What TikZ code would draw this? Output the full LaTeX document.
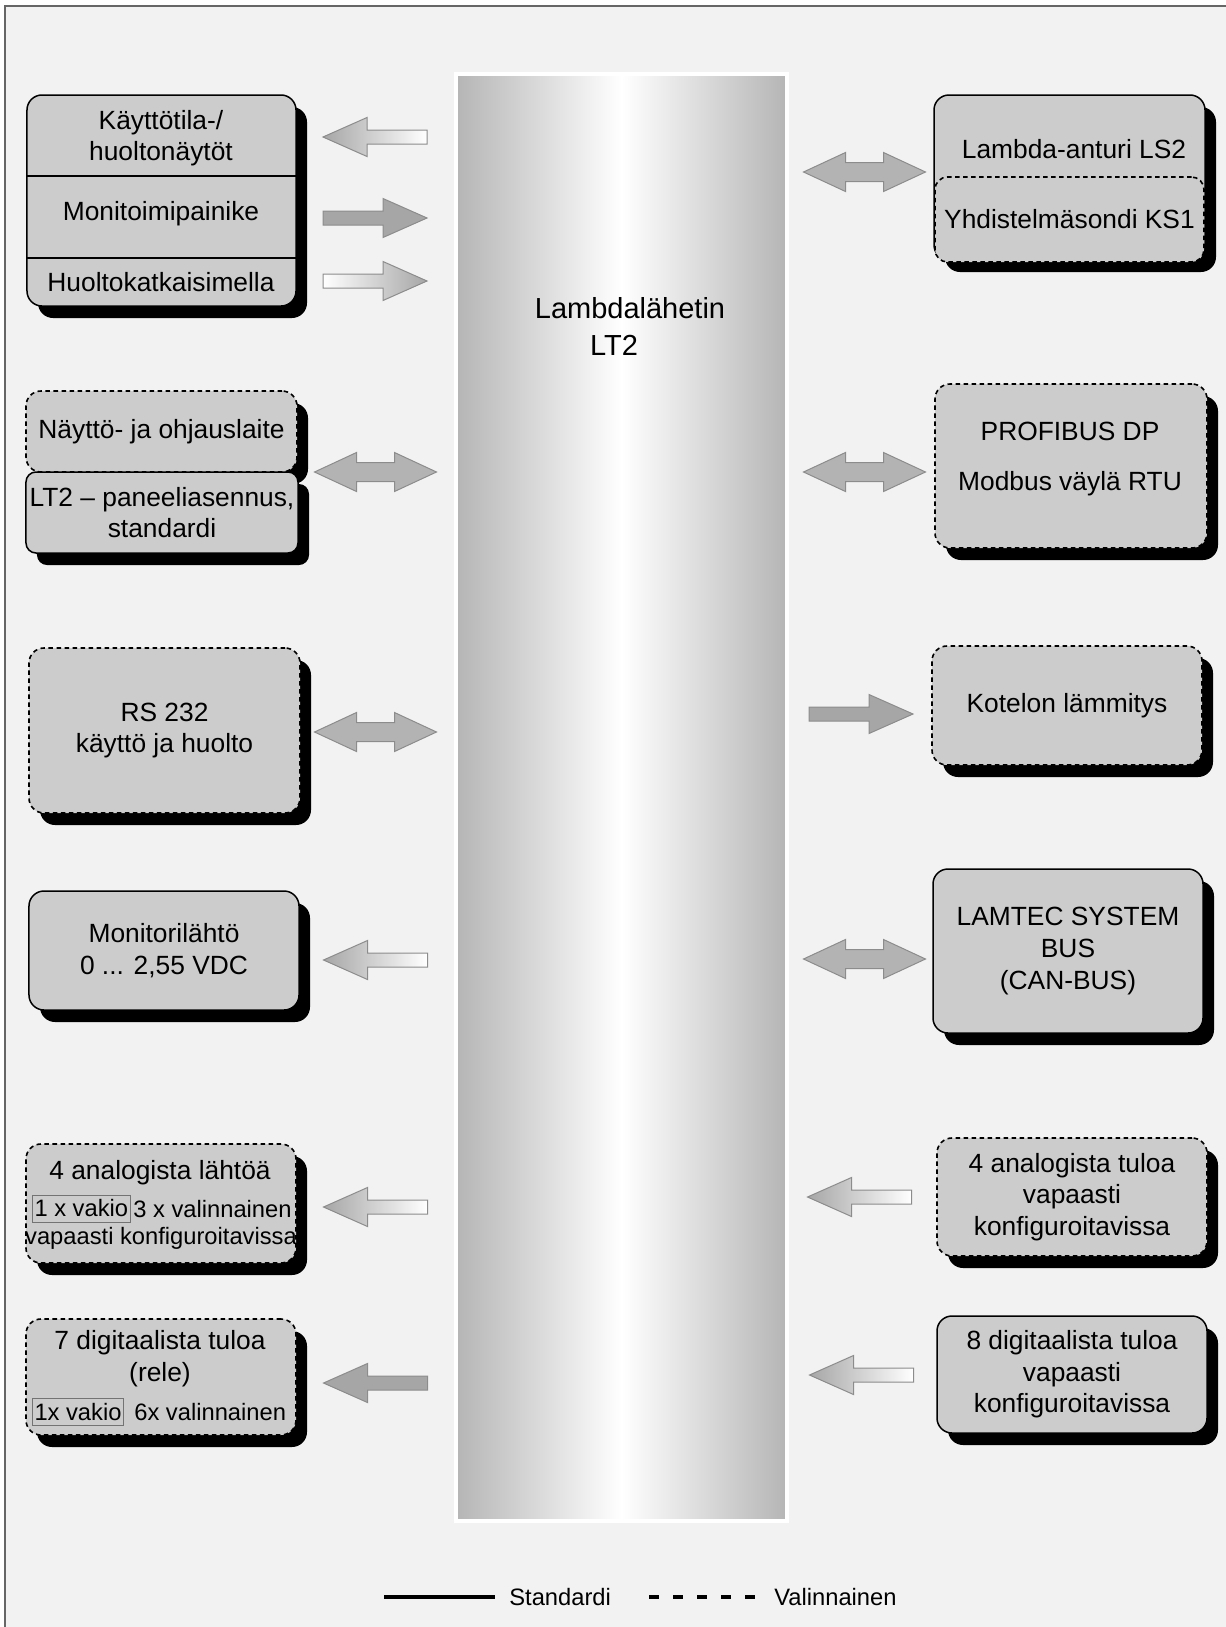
\documentclass[tikz,border=0pt]{standalone}
\usepackage{fontspec}
\setmainfont{Liberation Sans}
\usetikzlibrary{shadows}
\definecolor{bg}{HTML}{F2F2F2}
\definecolor{boxfill}{HTML}{CCCCCC}
\definecolor{barside}{HTML}{B5B5B5}
\definecolor{arrfill}{HTML}{A6A6A6}
\definecolor{dblfill}{HTML}{B3B3B3}
\definecolor{arredge}{HTML}{8C8C8C}
\tikzset{
  base/.style={rectangle, rounded corners=3mm, draw=black, line width=0.3mm, fill=boxfill,
    align=center, inner sep=1pt, font=\fontsize{15}{18}\selectfont},
  opt/.style={line width=0.32mm, dash pattern=on 0.9mm off 0.7mm},
  shadowed/.style={drop shadow={shadow xshift=2.2mm, shadow yshift=-2.4mm, fill=black, opacity=1}},
  txt/.style={align=center, inner sep=0pt, font=\fontsize{15}{18}\selectfont},
  small/.style={inner sep=0pt, font=\fontsize{13.5}{16}\selectfont},
  vakio/.style={small, draw=black!55, line width=0.2mm, inner xsep=0.4mm, minimum height=5.4mm},
  gradL/.style={draw=arredge, line width=0.2mm, left color=arrfill, right color=white},
  gradR/.style={draw=arredge, line width=0.2mm, left color=white, right color=arrfill},
  solidarr/.style={draw=arredge, line width=0.2mm, fill=arrfill},
  dblarr/.style={draw=arredge, line width=0.2mm, fill=dblfill},
  pics/arrL/.style={code={\path[pic actions] (-52,0) -- (-8,-19.5) -- (-8,-7) -- (52,-7) -- (52,7) -- (-8,7) -- (-8,19.5) -- cycle;}},
  pics/arrR/.style={code={\path[pic actions] (52,0) -- (8,-19.5) -- (8,-7) -- (-52,-7) -- (-52,7) -- (8,7) -- (8,19.5) -- cycle;}},
  pics/arrLR/.style={code={\path[pic actions] (-61,0) -- (-19,-19.5) -- (-19,-9.5) -- (19,-9.5) -- (19,-19.5) -- (61,0) -- (19,19.5) -- (19,9.5) -- (-19,9.5) -- (-19,19.5) -- cycle;}},
}
\begin{document}
\begin{tikzpicture}[x=0.2mm, y=-0.2mm]
\useasboundingbox (0,0) rectangle (1226,1627);
\fill[white] (0,0) rectangle (1226,1627);
\fill[bg] (5,6) rectangle (1226,1627);
\draw[black!60, line width=0.4mm] (5,1627) -- (5,6) -- (1226,6);
% Lambdalähetin
\node[draw=white, line width=0.8mm, left color=barside, right color=barside, middle color=white, minimum width=66.2mm, minimum height=289.3mm, inner sep=0pt] (lt2) at (621.5,797.75) {};
\node[txt, font=\fontsize{16.5}{20}\selectfont] (lt2name) at (630,308) {Lambdalähetin};
\node[txt, font=\fontsize{16.5}{20}\selectfont] (lt2type) at (614,345) {LT2};
% left column
\node[base, shadowed, minimum width=53.8mm, minimum height=42.2mm] (kaytto) at (161.5,200.5) {};
\draw[line width=0.3mm] (kaytto.west |- 0,176) -- (kaytto.east |- 0,176);
\draw[line width=0.3mm] (kaytto.west |- 0,258) -- (kaytto.east |- 0,258);
\node[txt] (naytot) at (161,138) {Käyttötila-/\\huoltonäytöt};
\node[txt] (painike) at (161,214) {Monitoimipainike};
\node[txt] (katkaisin) at (161,282) {Huoltokatkaisimella};
\node[base, opt, shadowed, minimum width=54.2mm, minimum height=16.2mm] (naytto) at (161.5,431.5) {Näyttö- ja ohjauslaite};
\node[base, shadowed, rounded corners=2mm, inner sep=0pt, minimum width=54.4mm, minimum height=16.2mm] (paneeli) at (162,512.5) {LT2 – paneeliasennus,\\standardi};
\node[base, opt, shadowed, minimum width=54.2mm, minimum height=33mm] (rs) at (164.5,730.5) {RS 232\\käyttö ja huolto};
\node[base, shadowed, minimum width=54mm, minimum height=23.8mm] (monitor) at (164,950.5) {Monitorilähtö\\0 ... 2,55 VDC};
\node[base, opt, shadowed, minimum width=54mm, minimum height=23.8mm] (alout) at (161,1203.5) {};
\node[txt] (alouttxt) at (160,1173) {4 analogista lähtöä};
\node[vakio, anchor=west] (vakio1) at (32,1208.5) {1 x vakio};
\node[small, anchor=west] (valin1) at (133,1209) {3 x valinnainen};
\begin{scope}
\clip (alout.south west) rectangle (alout.north east);
\node[small] (konf1) at (161,1238) {vapaasti konfiguroitavissa};
\end{scope}
\node[base, opt, shadowed, minimum width=54mm, minimum height=23.2mm] (digout) at (161,1377) {};
\node[txt] (digouttxt) at (160,1358.5) {7 digitaalista tuloa\\(rele)};
\node[vakio, anchor=west] (vakio2) at (32,1412) {1x vakio\ };
\node[small, anchor=west] (valin2) at (134,1412) {6x valinnainen};
% right column
\node[base, shadowed, minimum width=54.2mm, minimum height=33mm] (anturi) at (1069.5,177.5) {};
\node[txt] (anturitxt) at (1074,149) {Lambda-anturi LS2};
\node[base, opt, rounded corners=2.5mm, minimum width=53.8mm, minimum height=17mm] (sondi) at (1069.5,219.5) {Yhdistelmäsondi KS1};
\node[base, opt, shadowed, minimum width=54.4mm, minimum height=32.8mm] (profibus) at (1071,466) {};
\node[txt] (profitxt) at (1070,459) {PROFIBUS DP\\[3.7mm]Modbus väylä RTU};
\node[base, opt, shadowed, minimum width=54mm, minimum height=23.8mm] (kotelo) at (1067,705.5) {Kotelon lämmitys};
\node[base, shadowed, minimum width=54mm, minimum height=32.8mm] (lamtec) at (1068,951) {LAMTEC SYSTEM\\BUS\\(CAN-BUS)};
\node[base, opt, shadowed, minimum width=54mm, minimum height=23.6mm] (alin) at (1072,1197) {4 analogista tuloa\\vapaasti\\konfiguroitavissa};
\node[base, shadowed, minimum width=54mm, minimum height=23.4mm] (digin) at (1072,1374.5) {8 digitaalista tuloa\\vapaasti\\konfiguroitavissa};
% arrows
\pic[gradL] at (375,137) {arrL};
\pic[solidarr] at (375,218) {arrR};
\pic[gradR] at (375,281) {arrR};
\pic[dblarr] at (375.5,472) {arrLR};
\pic[dblarr] at (375.5,732) {arrLR};
\pic[gradL] at (375.5,960) {arrL};
\pic[gradL] at (375.5,1207) {arrL};
\pic[solidarr] at (375.5,1383) {arrL};
\pic[dblarr] at (864.5,172) {arrLR};
\pic[dblarr] at (864.5,472) {arrLR};
\pic[solidarr] at (861,714) {arrR};
\pic[dblarr] at (864.5,959) {arrLR};
\pic[gradL] at (859.5,1197) {arrL};
\pic[gradL] at (861.5,1375) {arrL};
% legend
\coordinate (std1) at (384,1597);
\coordinate (std2) at (495,1597);
\coordinate (val1) at (649,1597);
\coordinate (val2) at (755,1597);
\draw[line width=0.8mm] (std1) -- (std2);
\draw[line width=0.8mm, dash pattern=on 2mm off 2.8mm] (val1) -- (val2);
\node[small, anchor=west] (stdtxt) at (509,1597) {Standardi};
\node[small, anchor=west] (valtxt) at (774,1597) {Valinnainen};
\end{tikzpicture}
\end{document}
